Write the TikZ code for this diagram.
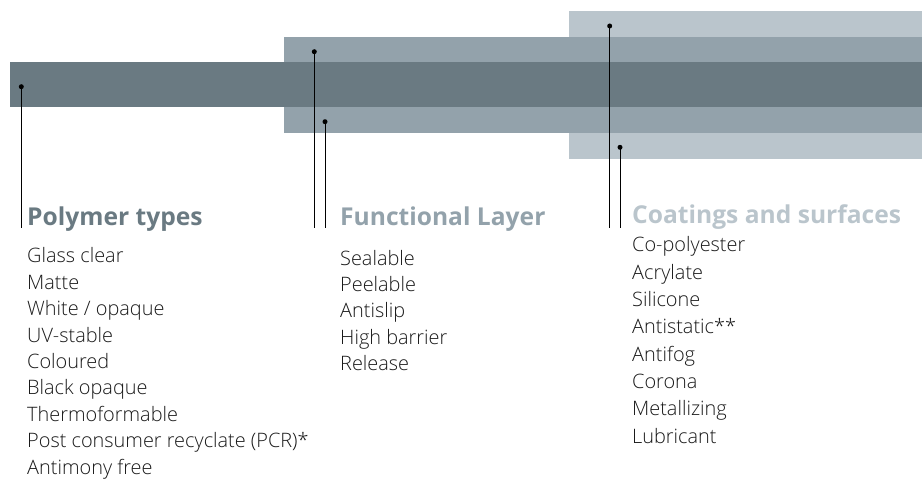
\documentclass[tikz,border=0pt]{standalone}
\usepackage{fontspec}
\setmainfont{Open Sans}
\newfontfamily\lightfont{Open Sans Light}
\definecolor{bandA}{HTML}{6A7A82}
\definecolor{bandB}{HTML}{93A2AB}
\definecolor{bandC}{HTML}{BAC5CC}
\definecolor{bodytxt}{HTML}{1A1A1A}
\begin{document}
\begin{tikzpicture}[x=1pt,y=-1pt,
  band/.style={fill=#1,draw=none},
  dotpt/.style={fill=black,circle,inner sep=0pt,minimum size=5pt},
  leader/.style={draw=black,line width=1pt},
  head/.style={anchor=base west,inner sep=0pt,font=\fontsize{24.6}{30}\selectfont\bfseries,text=#1},
  item/.style={anchor=base west,inner sep=0pt,font=\lightfont\fontsize{19.9}{24}\selectfont,text=bodytxt}]
\useasboundingbox (0,0) rectangle (922,481);
% bands
\fill[band=bandC] (569,11) rectangle (922,158.7);
\fill[band=bandB] (284,37) rectangle (922,132.7);
\fill[band=bandA] (10,62.3) rectangle (922,106.7);
% dots and leader ends
\node[dotpt] (d1) at (21.3,86.7) {};
\node[dotpt] (d2) at (314.3,51.7) {};
\node[dotpt] (d3) at (325,121.7) {};
\node[dotpt] (d4) at (609.7,26) {};
\node[dotpt] (d5) at (620,147.3) {};
\coordinate (e1) at (21.3,228);
\coordinate (e2) at (314.3,228);
\coordinate (e3) at (325,228);
\coordinate (e4) at (609.7,228);
\coordinate (e5) at (620,228);
\draw[leader] (d1.center) -- (e1);
\draw[leader] (d2.center) -- (e2);
\draw[leader] (d3.center) -- (e3);
\draw[leader] (d4.center) -- (e4);
\draw[leader] (d5.center) -- (e5);
% headers
\node[head=bandA] (h1) at (27,226) {Polymer types};
\node[head=bandB] (h2) at (340,226) {Functional Layer};
\node[head=bandC] (h3) at (632,224) {Coatings and surfaces};
% lists
\foreach \t [count=\i from 0] in {Glass clear,Matte,White / opaque,UV-stable,Coloured,Black opaque,Thermoformable,Post consumer recyclate (PCR)*,Antimony free}
  \node[item] (p\i) at (27,263+26.4*\i) {\t};
\foreach \t [count=\i from 0] in {Sealable,Peelable,Antislip,High barrier,Release}
  \node[item] (f\i) at (340,265.5+26.2*\i) {\t};
\foreach \t [count=\i from 0] in {Co-polyester,Acrylate,Silicone,Antistatic**,Antifog,Corona,Metallizing,Lubricant}
  \node[item] (c\i) at (632,252+27.3*\i) {\t};
\end{tikzpicture}
\end{document}
